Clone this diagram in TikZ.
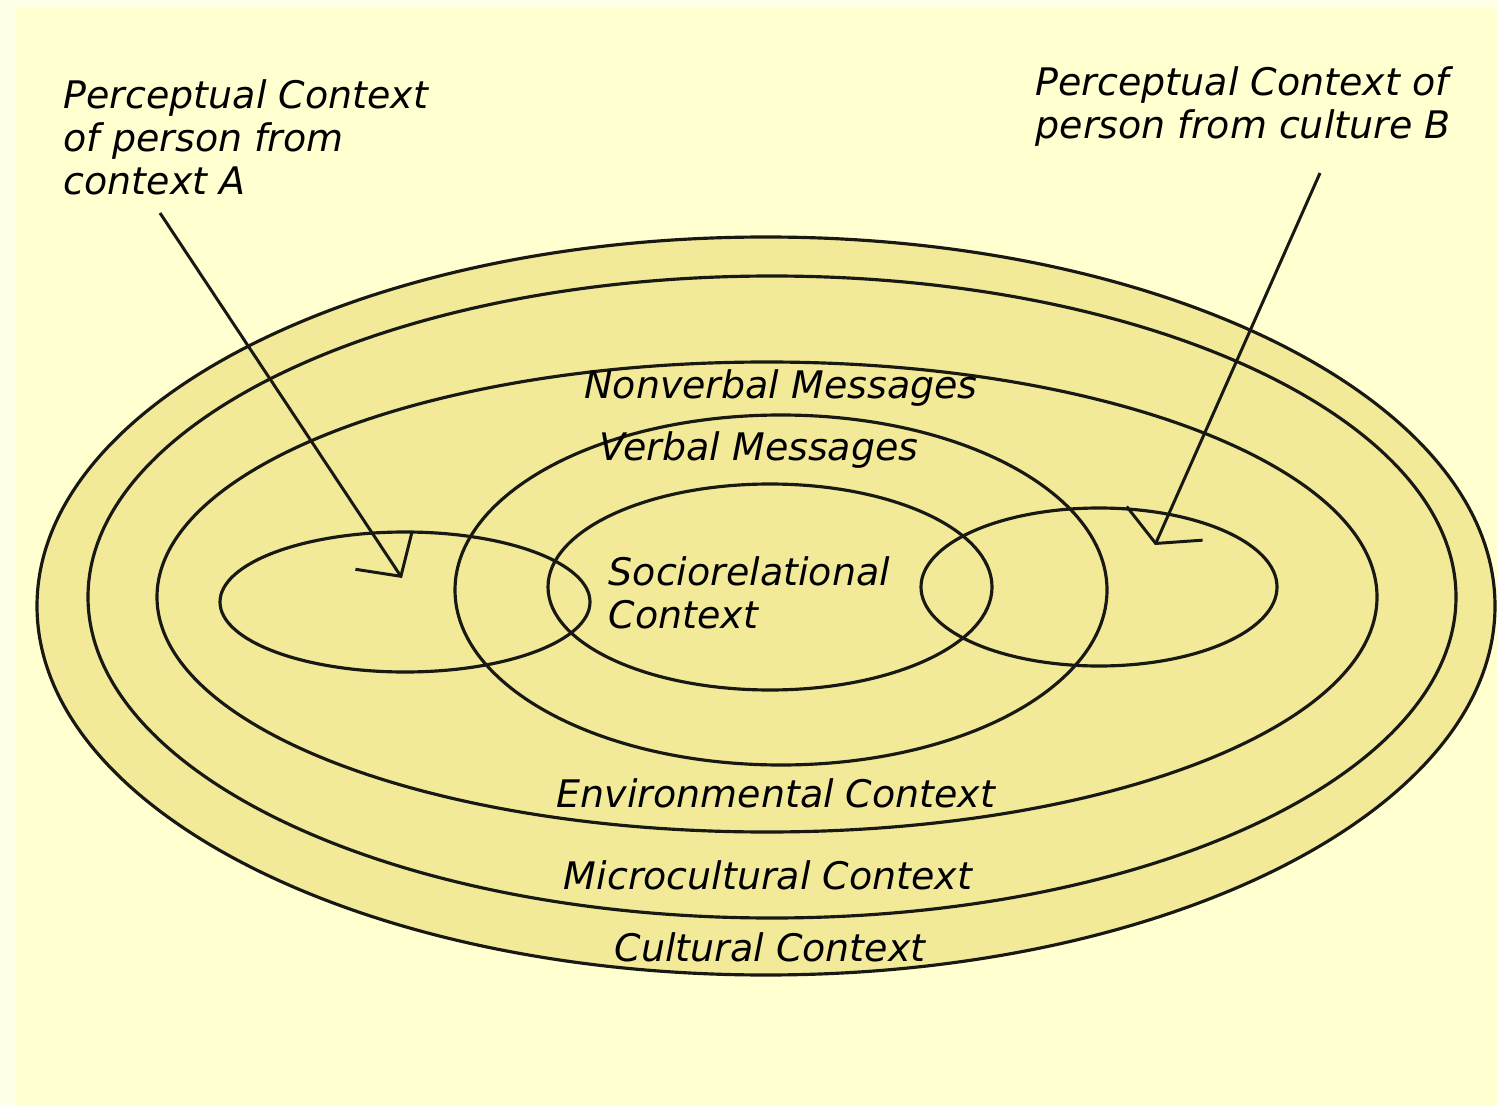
\documentclass[tikz,border=0pt]{standalone}
\usepackage{fontspec}
\setmainfont{DejaVu Sans}
\usetikzlibrary{arrows.meta}
\definecolor{pagebg}{RGB}{255,255,208}
\definecolor{edgebg}{RGB}{255,255,232}
\definecolor{ringfill}{RGB}{242,234,152}
\definecolor{inkline}{RGB}{25,25,20}

\begin{document}
\begin{tikzpicture}[x=0.1mm, y=-0.1mm,
  ring/.style={draw=inkline, line width=0.9pt},
  lbl/.style={font=\fontsize{10.8}{12.2}\selectfont\itshape, inner sep=0pt, text=black},
  pointer/.style={draw=inkline, line width=0.85pt},
  tipA/.style={-{Straight Barb[length=3.1mm, width=6.8mm, line width=0.85pt]}},
  tipB/.style={-{Straight Barb[length=2.2mm, width=8.3mm, line width=0.85pt]}}]

  % page
  \useasboundingbox (0,0) rectangle (1497,1105);
  \fill[edgebg] (0,0) rectangle (1497,1105);
  \fill[pagebg] (15,8) rectangle (1497,1105);

  % nested contexts
  \filldraw[ring, fill=ringfill] (766,606) ellipse [x radius=72.9mm, y radius=36.9mm]; % cultural
  \draw[ring] (772,597) ellipse [x radius=68.4mm, y radius=32.1mm];  % microcultural
  \draw[ring] (767,597) ellipse [x radius=61.0mm, y radius=23.5mm];  % environmental
  \draw[ring] (781,590) ellipse [x radius=32.6mm, y radius=17.5mm];  % verbal / nonverbal
  \draw[ring] (770,587) ellipse [x radius=22.2mm, y radius=10.3mm];  % sociorelational

  % perceptual contexts of the two persons
  \draw[ring] (405,602) ellipse [x radius=18.5mm, y radius=7.0mm];
  \draw[ring] (1099,587) ellipse [x radius=17.8mm, y radius=7.9mm];

  % labels
  \node[lbl, anchor=north west, align=left] (percA) at (63,79)
    {Perceptual Context\\of person from\\context A};
  \node[lbl, anchor=north west, align=left] (percB) at (1035,66)
    {Perceptual Context of\\person from culture B};
  \node[lbl, anchor=base] (nonverbal) at (781,398) {Nonverbal Messages};
  \node[lbl, anchor=base] (verbal) at (759,460) {Verbal Messages};
  \node[lbl, anchor=north west, align=left] (socio) at (608,556)
    {Sociorelational\\Context};
  \node[lbl, anchor=base] (environ) at (776,807) {Environmental Context};
  \node[lbl, anchor=base] (micro) at (768,889) {Microcultural Context};
  \node[lbl, anchor=base] (cultural) at (770,961) {Cultural Context};

  % pointers
  \coordinate (tailA) at (160,213);
  \coordinate (headA) at (402,578);
  \coordinate (tailB) at (1320,173);
  \coordinate (headB) at (1155,545);
  \draw[pointer, tipA] (tailA) -- (headA);
  \draw[pointer, tipB] (tailB) -- (headB);
\end{tikzpicture}
\end{document}
